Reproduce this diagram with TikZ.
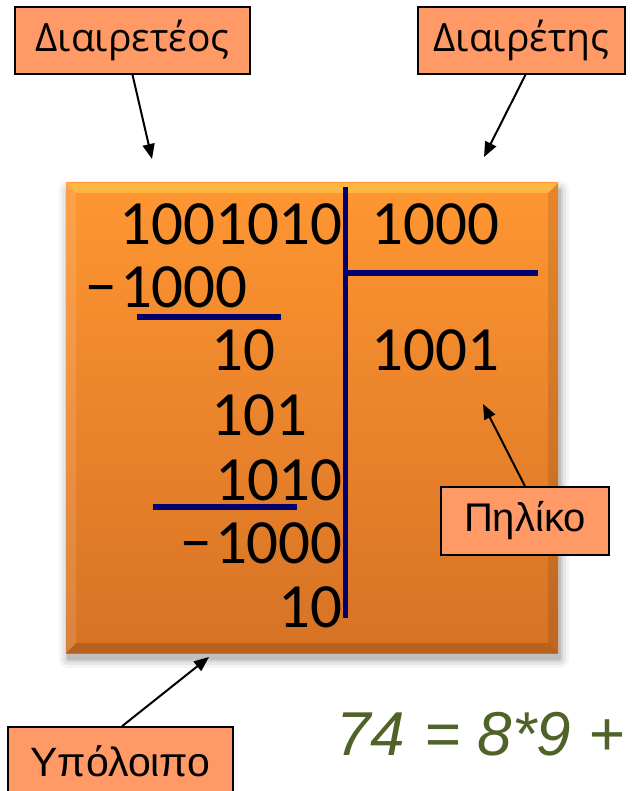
\documentclass[tikz,border=0pt]{standalone}
\usepackage{fontspec}
\setmainfont{Liberation Sans}
\newfontfamily\numfont{Carlito}
\newfontfamily\labfont{Open Sans}
\usetikzlibrary{arrows.meta}
\definecolor{labfill}{RGB}{255,153,102}
\definecolor{navyline}{RGB}{0,0,110}
\definecolor{boxtop}{RGB}{255,150,50}
\definecolor{boxbot}{RGB}{214,114,36}
\definecolor{eqgreen}{RGB}{79,98,40}
\tikzset{
  lab/.style={draw=black, line width=1.5pt, fill=labfill, inner sep=0pt, text=black},
  num/.style={font=\numfont\fontsize{63}{63}\selectfont, inner sep=0pt, text=black},
  rule/.style={draw=navyline, line width=6pt},
  pointer/.style={draw=black, line width=2pt, -{Triangle[length=15pt,width=12pt]}},
}
\begin{document}
\begin{tikzpicture}[x=1pt,y=-1pt]
\useasboundingbox (0,0) rectangle (633,791);
\begin{scope}
\clip (0,0) rectangle (633,791);
% shadow of the board
\foreach \d/\o in {9/0.04,6/0.06,3/0.08,1/0.1}{
  \fill[black, opacity=\o, rounded corners=\d pt] (66-\d+2,183-\d+7) rectangle (558+\d+2,653+\d+6);
}
% board
\path[top color=boxtop, bottom color=boxbot] (66,183) rectangle (558,653);
\fill[yellow!60!white, opacity=0.35] (66,183) -- (558,183) -- (548,193) -- (76,193) -- cycle;
\fill[white, opacity=0.12] (66,183) -- (76,193) -- (76,643) -- (66,653) -- cycle;
\fill[black, opacity=0.14] (66,653) -- (76,643) -- (548,643) -- (558,653) -- cycle;
\fill[black, opacity=0.10] (558,183) -- (548,193) -- (548,643) -- (558,653) -- cycle;
\coordinate (board-top-left) at (152,159);
\coordinate (board-top-right) at (484,157);
\coordinate (quot-tip) at (483,404);
\coordinate (board-bottom) at (209,657);

% division rules
\coordinate (vtop) at (345,187);
\coordinate (vbot) at (345,618);
\coordinate (hstart) at (345,273);
\coordinate (hend) at (538,273);
\draw[rule, line width=5pt] (vtop) -- (vbot);
\draw[rule] (hstart) -- (hend);
\coordinate (u1a) at (137,317); \coordinate (u1b) at (281,317);
\coordinate (u2a) at (153,507); \coordinate (u2b) at (297,507);
\draw[rule] (u1a) -- (u1b);
\draw[rule] (u2a) -- (u2b);

% numbers
\node[num, anchor=base east] (dividend) at (343,244) {1001010};
\node[num, anchor=base west] (divisor) at (371,244) {1000};
\node[num, anchor=base east] (sub1) at (248,307) {−\kern3pt1000};
\node[num, anchor=base west] (rem1) at (211,370) {10};
\node[num, anchor=base west] (quotient) at (371,370) {1001};
\node[num, anchor=base west] (rem2) at (211,435) {101};
\node[num, anchor=base east] (rem3) at (343,500) {1010};
\node[num, anchor=base east] (sub2) at (343,563) {−\kern3pt1000};
\node[num, anchor=base east] (remainder) at (343,627) {10};

% labels
\node[lab, minimum width=235pt, minimum height=67pt, font=\labfont\fontsize{39}{39}\selectfont] (dividendlab) at (132.5,40.5) {Διαιρετέος};
\node[lab, minimum width=207pt, minimum height=67pt, font=\labfont\fontsize{39}{39}\selectfont] (divisorlab) at (521.5,40.5) {Διαιρέτης};
\node[lab, minimum width=168pt, minimum height=68pt, font=\fontsize{40}{40}\selectfont] (quotlab) at (525,521) {Πηλίκο};
\node[lab, minimum width=225pt, minimum height=68pt, font=\fontsize{41}{41}\selectfont] (remlab) at (120.5,761) {Υπόλοιπο};

% arrows
\draw[pointer] (dividendlab.south) -- (board-top-left);
\draw[pointer] ([xshift=4pt]divisorlab.south) -- (board-top-right);
\draw[pointer] (quotlab.north) -- (quot-tip);
\draw[pointer] ([xshift=1.5pt]remlab.north) -- (board-bottom);

% equation
\node[inner sep=0pt, anchor=base west, text=eqgreen, font=\itshape\fontsize{62}{62}\selectfont] (equation) at (336,755) {74\kern2pt{} = 8*9 +};
\end{scope}
\end{tikzpicture}
\end{document}
